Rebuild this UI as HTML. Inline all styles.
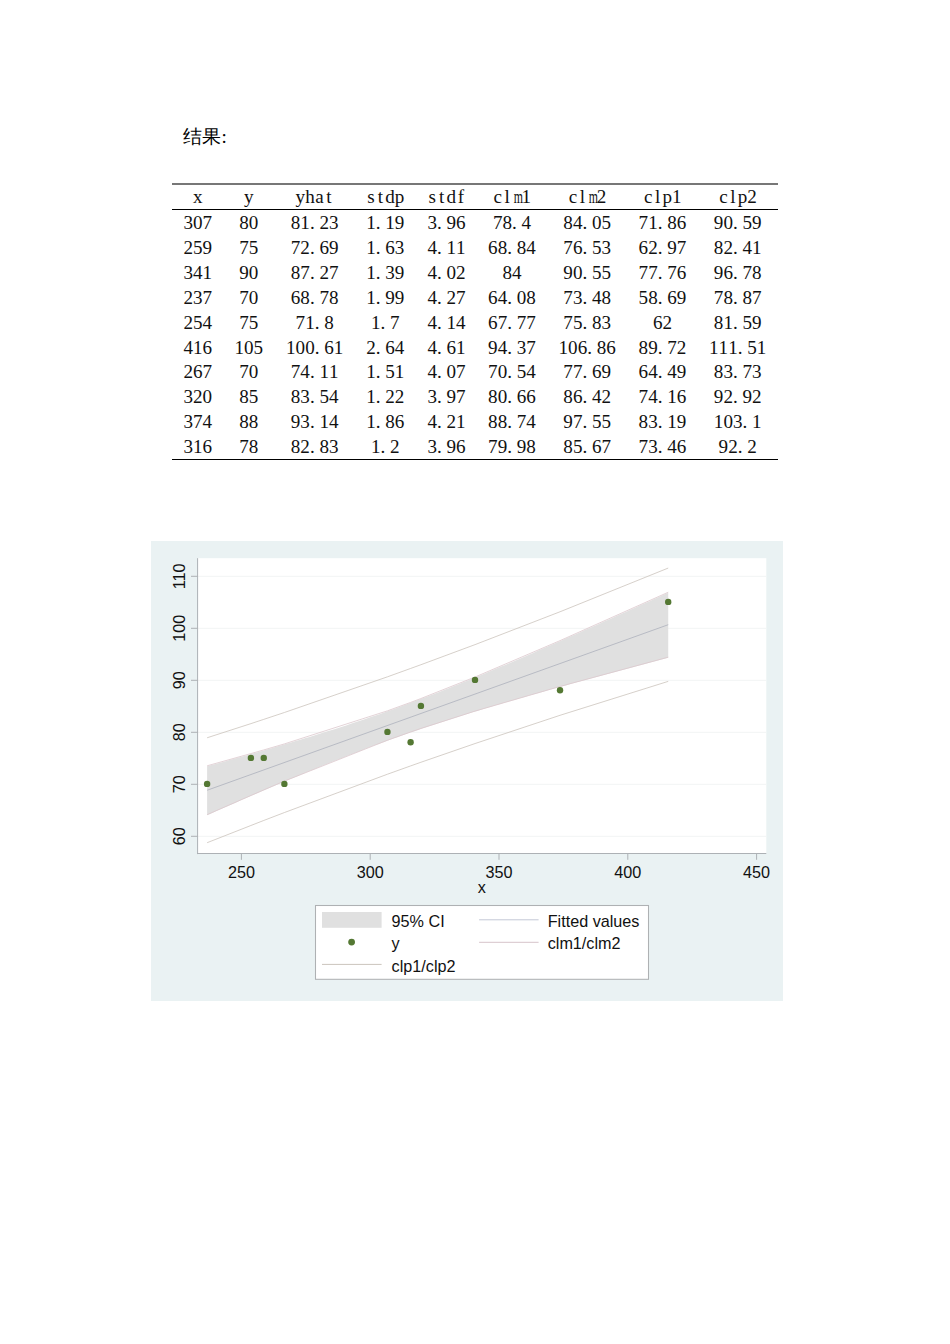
<!DOCTYPE html>
<html><head><meta charset="utf-8"><style>
html,body{margin:0;padding:0;background:#fff;}
body{width:950px;height:1344px;position:relative;overflow:hidden;}
.c{position:absolute;font-family:"Liberation Serif",serif;font-size:19.1px;line-height:20px;white-space:nowrap;color:#111;}
.c i{font-style:normal;display:inline-block;width:9.550px;text-align:center;}
.c i.p{text-align:left;}
.c i.m{transform:scaleX(0.62);}
.title{position:absolute;left:182.5px;top:125px;font-family:"Liberation Serif",serif;font-size:19.1px;line-height:24px;color:#000;}
.rule{position:absolute;left:172.2px;width:605.7px;background:#000;}
svg text{font-family:"Liberation Sans",sans-serif;}
</style></head><body>
<div class="title">结果<span style="position:absolute;left:39px;top:0">:</span></div>
<div class="rule" style="top:182.7px;height:2px;background:#777"></div>
<div class="rule" style="top:209px;height:1px;"></div>
<div class="rule" style="top:459px;height:1.3px;"></div>
<div class="c" style="left:193.03px;top:187.30px"><i>x</i></div>
<div class="c" style="left:243.92px;top:187.30px"><i>y</i></div>
<div class="c" style="left:295.60px;top:187.30px"><i>y</i><i>h</i><i>a</i><i>t</i></div>
<div class="c" style="left:366.20px;top:187.30px"><i>s</i><i>t</i><i>d</i><i>p</i></div>
<div class="c" style="left:427.40px;top:187.30px"><i>s</i><i>t</i><i>d</i><i>f</i></div>
<div class="c" style="left:492.90px;top:187.30px"><i>c</i><i>l</i><i class="m">m</i><i>1</i></div>
<div class="c" style="left:568.10px;top:187.30px"><i>c</i><i>l</i><i class="m">m</i><i>2</i></div>
<div class="c" style="left:643.40px;top:187.30px"><i>c</i><i>l</i><i>p</i><i>1</i></div>
<div class="c" style="left:718.60px;top:187.30px"><i>c</i><i>l</i><i>p</i><i>2</i></div>
<div class="c" style="left:183.48px;top:213.17px"><i>3</i><i>0</i><i>7</i></div>
<div class="c" style="left:239.15px;top:213.17px"><i>8</i><i>0</i></div>
<div class="c" style="left:290.82px;top:213.17px"><i>8</i><i>1</i><i class="p">.</i><i>2</i><i>3</i></div>
<div class="c" style="left:366.20px;top:213.17px"><i>1</i><i class="p">.</i><i>1</i><i>9</i></div>
<div class="c" style="left:427.40px;top:213.17px"><i>3</i><i class="p">.</i><i>9</i><i>6</i></div>
<div class="c" style="left:492.90px;top:213.17px"><i>7</i><i>8</i><i class="p">.</i><i>4</i></div>
<div class="c" style="left:563.33px;top:213.17px"><i>8</i><i>4</i><i class="p">.</i><i>0</i><i>5</i></div>
<div class="c" style="left:638.62px;top:213.17px"><i>7</i><i>1</i><i class="p">.</i><i>8</i><i>6</i></div>
<div class="c" style="left:713.83px;top:213.17px"><i>9</i><i>0</i><i class="p">.</i><i>5</i><i>9</i></div>
<div class="c" style="left:183.48px;top:238.04px"><i>2</i><i>5</i><i>9</i></div>
<div class="c" style="left:239.15px;top:238.04px"><i>7</i><i>5</i></div>
<div class="c" style="left:290.82px;top:238.04px"><i>7</i><i>2</i><i class="p">.</i><i>6</i><i>9</i></div>
<div class="c" style="left:366.20px;top:238.04px"><i>1</i><i class="p">.</i><i>6</i><i>3</i></div>
<div class="c" style="left:427.40px;top:238.04px"><i>4</i><i class="p">.</i><i>1</i><i>1</i></div>
<div class="c" style="left:488.12px;top:238.04px"><i>6</i><i>8</i><i class="p">.</i><i>8</i><i>4</i></div>
<div class="c" style="left:563.33px;top:238.04px"><i>7</i><i>6</i><i class="p">.</i><i>5</i><i>3</i></div>
<div class="c" style="left:638.62px;top:238.04px"><i>6</i><i>2</i><i class="p">.</i><i>9</i><i>7</i></div>
<div class="c" style="left:713.83px;top:238.04px"><i>8</i><i>2</i><i class="p">.</i><i>4</i><i>1</i></div>
<div class="c" style="left:183.48px;top:262.91px"><i>3</i><i>4</i><i>1</i></div>
<div class="c" style="left:239.15px;top:262.91px"><i>9</i><i>0</i></div>
<div class="c" style="left:290.82px;top:262.91px"><i>8</i><i>7</i><i class="p">.</i><i>2</i><i>7</i></div>
<div class="c" style="left:366.20px;top:262.91px"><i>1</i><i class="p">.</i><i>3</i><i>9</i></div>
<div class="c" style="left:427.40px;top:262.91px"><i>4</i><i class="p">.</i><i>0</i><i>2</i></div>
<div class="c" style="left:502.45px;top:262.91px"><i>8</i><i>4</i></div>
<div class="c" style="left:563.33px;top:262.91px"><i>9</i><i>0</i><i class="p">.</i><i>5</i><i>5</i></div>
<div class="c" style="left:638.62px;top:262.91px"><i>7</i><i>7</i><i class="p">.</i><i>7</i><i>6</i></div>
<div class="c" style="left:713.83px;top:262.91px"><i>9</i><i>6</i><i class="p">.</i><i>7</i><i>8</i></div>
<div class="c" style="left:183.48px;top:287.78px"><i>2</i><i>3</i><i>7</i></div>
<div class="c" style="left:239.15px;top:287.78px"><i>7</i><i>0</i></div>
<div class="c" style="left:290.82px;top:287.78px"><i>6</i><i>8</i><i class="p">.</i><i>7</i><i>8</i></div>
<div class="c" style="left:366.20px;top:287.78px"><i>1</i><i class="p">.</i><i>9</i><i>9</i></div>
<div class="c" style="left:427.40px;top:287.78px"><i>4</i><i class="p">.</i><i>2</i><i>7</i></div>
<div class="c" style="left:488.12px;top:287.78px"><i>6</i><i>4</i><i class="p">.</i><i>0</i><i>8</i></div>
<div class="c" style="left:563.33px;top:287.78px"><i>7</i><i>3</i><i class="p">.</i><i>4</i><i>8</i></div>
<div class="c" style="left:638.62px;top:287.78px"><i>5</i><i>8</i><i class="p">.</i><i>6</i><i>9</i></div>
<div class="c" style="left:713.83px;top:287.78px"><i>7</i><i>8</i><i class="p">.</i><i>8</i><i>7</i></div>
<div class="c" style="left:183.48px;top:312.65px"><i>2</i><i>5</i><i>4</i></div>
<div class="c" style="left:239.15px;top:312.65px"><i>7</i><i>5</i></div>
<div class="c" style="left:295.60px;top:312.65px"><i>7</i><i>1</i><i class="p">.</i><i>8</i></div>
<div class="c" style="left:370.98px;top:312.65px"><i>1</i><i class="p">.</i><i>7</i></div>
<div class="c" style="left:427.40px;top:312.65px"><i>4</i><i class="p">.</i><i>1</i><i>4</i></div>
<div class="c" style="left:488.12px;top:312.65px"><i>6</i><i>7</i><i class="p">.</i><i>7</i><i>7</i></div>
<div class="c" style="left:563.33px;top:312.65px"><i>7</i><i>5</i><i class="p">.</i><i>8</i><i>3</i></div>
<div class="c" style="left:652.95px;top:312.65px"><i>6</i><i>2</i></div>
<div class="c" style="left:713.83px;top:312.65px"><i>8</i><i>1</i><i class="p">.</i><i>5</i><i>9</i></div>
<div class="c" style="left:183.48px;top:337.52px"><i>4</i><i>1</i><i>6</i></div>
<div class="c" style="left:234.38px;top:337.52px"><i>1</i><i>0</i><i>5</i></div>
<div class="c" style="left:286.05px;top:337.52px"><i>1</i><i>0</i><i>0</i><i class="p">.</i><i>6</i><i>1</i></div>
<div class="c" style="left:366.20px;top:337.52px"><i>2</i><i class="p">.</i><i>6</i><i>4</i></div>
<div class="c" style="left:427.40px;top:337.52px"><i>4</i><i class="p">.</i><i>6</i><i>1</i></div>
<div class="c" style="left:488.12px;top:337.52px"><i>9</i><i>4</i><i class="p">.</i><i>3</i><i>7</i></div>
<div class="c" style="left:558.55px;top:337.52px"><i>1</i><i>0</i><i>6</i><i class="p">.</i><i>8</i><i>6</i></div>
<div class="c" style="left:638.62px;top:337.52px"><i>8</i><i>9</i><i class="p">.</i><i>7</i><i>2</i></div>
<div class="c" style="left:709.05px;top:337.52px"><i>1</i><i>1</i><i>1</i><i class="p">.</i><i>5</i><i>1</i></div>
<div class="c" style="left:183.48px;top:362.39px"><i>2</i><i>6</i><i>7</i></div>
<div class="c" style="left:239.15px;top:362.39px"><i>7</i><i>0</i></div>
<div class="c" style="left:290.82px;top:362.39px"><i>7</i><i>4</i><i class="p">.</i><i>1</i><i>1</i></div>
<div class="c" style="left:366.20px;top:362.39px"><i>1</i><i class="p">.</i><i>5</i><i>1</i></div>
<div class="c" style="left:427.40px;top:362.39px"><i>4</i><i class="p">.</i><i>0</i><i>7</i></div>
<div class="c" style="left:488.12px;top:362.39px"><i>7</i><i>0</i><i class="p">.</i><i>5</i><i>4</i></div>
<div class="c" style="left:563.33px;top:362.39px"><i>7</i><i>7</i><i class="p">.</i><i>6</i><i>9</i></div>
<div class="c" style="left:638.62px;top:362.39px"><i>6</i><i>4</i><i class="p">.</i><i>4</i><i>9</i></div>
<div class="c" style="left:713.83px;top:362.39px"><i>8</i><i>3</i><i class="p">.</i><i>7</i><i>3</i></div>
<div class="c" style="left:183.48px;top:387.26px"><i>3</i><i>2</i><i>0</i></div>
<div class="c" style="left:239.15px;top:387.26px"><i>8</i><i>5</i></div>
<div class="c" style="left:290.82px;top:387.26px"><i>8</i><i>3</i><i class="p">.</i><i>5</i><i>4</i></div>
<div class="c" style="left:366.20px;top:387.26px"><i>1</i><i class="p">.</i><i>2</i><i>2</i></div>
<div class="c" style="left:427.40px;top:387.26px"><i>3</i><i class="p">.</i><i>9</i><i>7</i></div>
<div class="c" style="left:488.12px;top:387.26px"><i>8</i><i>0</i><i class="p">.</i><i>6</i><i>6</i></div>
<div class="c" style="left:563.33px;top:387.26px"><i>8</i><i>6</i><i class="p">.</i><i>4</i><i>2</i></div>
<div class="c" style="left:638.62px;top:387.26px"><i>7</i><i>4</i><i class="p">.</i><i>1</i><i>6</i></div>
<div class="c" style="left:713.83px;top:387.26px"><i>9</i><i>2</i><i class="p">.</i><i>9</i><i>2</i></div>
<div class="c" style="left:183.48px;top:412.13px"><i>3</i><i>7</i><i>4</i></div>
<div class="c" style="left:239.15px;top:412.13px"><i>8</i><i>8</i></div>
<div class="c" style="left:290.82px;top:412.13px"><i>9</i><i>3</i><i class="p">.</i><i>1</i><i>4</i></div>
<div class="c" style="left:366.20px;top:412.13px"><i>1</i><i class="p">.</i><i>8</i><i>6</i></div>
<div class="c" style="left:427.40px;top:412.13px"><i>4</i><i class="p">.</i><i>2</i><i>1</i></div>
<div class="c" style="left:488.12px;top:412.13px"><i>8</i><i>8</i><i class="p">.</i><i>7</i><i>4</i></div>
<div class="c" style="left:563.33px;top:412.13px"><i>9</i><i>7</i><i class="p">.</i><i>5</i><i>5</i></div>
<div class="c" style="left:638.62px;top:412.13px"><i>8</i><i>3</i><i class="p">.</i><i>1</i><i>9</i></div>
<div class="c" style="left:713.83px;top:412.13px"><i>1</i><i>0</i><i>3</i><i class="p">.</i><i>1</i></div>
<div class="c" style="left:183.48px;top:437.00px"><i>3</i><i>1</i><i>6</i></div>
<div class="c" style="left:239.15px;top:437.00px"><i>7</i><i>8</i></div>
<div class="c" style="left:290.82px;top:437.00px"><i>8</i><i>2</i><i class="p">.</i><i>8</i><i>3</i></div>
<div class="c" style="left:370.98px;top:437.00px"><i>1</i><i class="p">.</i><i>2</i></div>
<div class="c" style="left:427.40px;top:437.00px"><i>3</i><i class="p">.</i><i>9</i><i>6</i></div>
<div class="c" style="left:488.12px;top:437.00px"><i>7</i><i>9</i><i class="p">.</i><i>9</i><i>8</i></div>
<div class="c" style="left:563.33px;top:437.00px"><i>8</i><i>5</i><i class="p">.</i><i>6</i><i>7</i></div>
<div class="c" style="left:638.62px;top:437.00px"><i>7</i><i>3</i><i class="p">.</i><i>4</i><i>6</i></div>
<div class="c" style="left:718.60px;top:437.00px"><i>9</i><i>2</i><i class="p">.</i><i>2</i></div>

<svg width="950" height="1344" style="position:absolute;left:0;top:0">
<rect x="151" y="541" width="632" height="460" fill="#eaf2f3"/>
<rect x="198" y="558.2" width="568.3" height="295.3" fill="#ffffff"/>
<g stroke="#f2f4f4" stroke-width="1"><line x1="198" x2="766.3" y1="836.30" y2="836.30"/><line x1="198" x2="766.3" y1="784.30" y2="784.30"/><line x1="198" x2="766.3" y1="732.30" y2="732.30"/><line x1="198" x2="766.3" y1="680.30" y2="680.30"/><line x1="198" x2="766.3" y1="628.30" y2="628.30"/><line x1="198" x2="766.3" y1="576.30" y2="576.30"/></g>
<path d="M207.11,766.32 L211.77,765.04 L216.43,763.75 L221.08,762.46 L225.74,761.17 L230.40,759.87 L235.06,758.57 L239.72,757.26 L244.37,755.95 L249.03,754.63 L253.69,753.30 L258.35,751.98 L263.00,750.64 L267.66,749.30 L272.32,747.95 L276.98,746.59 L281.63,745.23 L286.29,743.86 L290.95,742.48 L295.61,741.09 L300.26,739.70 L304.92,738.29 L309.58,736.88 L314.24,735.45 L318.89,734.01 L323.55,732.56 L328.21,731.10 L332.87,729.63 L337.53,728.15 L342.18,726.65 L346.84,725.13 L351.50,723.61 L356.16,722.07 L360.81,720.51 L365.47,718.94 L370.13,717.36 L374.79,715.76 L379.44,714.14 L384.10,712.51 L388.76,710.86 L393.42,709.19 L398.07,707.51 L402.73,705.81 L407.39,704.09 L412.05,702.36 L416.70,700.61 L421.36,698.85 L426.02,697.07 L430.68,695.28 L435.34,693.47 L439.99,691.65 L444.65,689.81 L449.31,687.97 L453.97,686.10 L458.62,684.23 L463.28,682.34 L467.94,680.44 L472.60,678.53 L477.25,676.61 L481.91,674.68 L486.57,672.74 L491.23,670.79 L495.88,668.83 L500.54,666.86 L505.20,664.89 L509.86,662.90 L514.51,660.91 L519.17,658.91 L523.83,656.91 L528.49,654.90 L533.15,652.88 L537.80,650.86 L542.46,648.83 L547.12,646.80 L551.78,644.76 L556.43,642.72 L561.09,640.67 L565.75,638.62 L570.41,636.56 L575.06,634.50 L579.72,632.44 L584.38,630.37 L589.04,628.30 L593.69,626.23 L598.35,624.15 L603.01,622.07 L607.67,619.99 L612.32,617.91 L616.98,615.82 L621.64,613.73 L626.30,611.64 L630.96,609.54 L635.61,607.45 L640.27,605.35 L644.93,603.25 L649.59,601.15 L654.24,599.04 L658.90,596.94 L663.56,594.83 L668.22,592.72 L668.22,657.69 L663.56,658.93 L658.90,660.17 L654.24,661.41 L649.59,662.65 L644.93,663.89 L640.27,665.13 L635.61,666.38 L630.96,667.63 L626.30,668.88 L621.64,670.13 L616.98,671.39 L612.32,672.65 L607.67,673.91 L603.01,675.17 L598.35,676.43 L593.69,677.70 L589.04,678.97 L584.38,680.25 L579.72,681.53 L575.06,682.81 L570.41,684.09 L565.75,685.38 L561.09,686.67 L556.43,687.97 L551.78,689.27 L547.12,690.58 L542.46,691.89 L537.80,693.21 L533.15,694.53 L528.49,695.86 L523.83,697.19 L519.17,698.53 L514.51,699.88 L509.86,701.23 L505.20,702.59 L500.54,703.96 L495.88,705.34 L491.23,706.72 L486.57,708.12 L481.91,709.52 L477.25,710.93 L472.60,712.36 L467.94,713.79 L463.28,715.24 L458.62,716.70 L453.97,718.17 L449.31,719.65 L444.65,721.14 L439.99,722.65 L435.34,724.17 L430.68,725.71 L426.02,727.26 L421.36,728.83 L416.70,730.41 L412.05,732.01 L407.39,733.62 L402.73,735.25 L398.07,736.90 L393.42,738.56 L388.76,740.24 L384.10,741.93 L379.44,743.64 L374.79,745.37 L370.13,747.11 L365.47,748.87 L360.81,750.65 L356.16,752.43 L351.50,754.24 L346.84,756.06 L342.18,757.89 L337.53,759.74 L332.87,761.60 L328.21,763.47 L323.55,765.35 L318.89,767.25 L314.24,769.16 L309.58,771.07 L304.92,773.00 L300.26,774.94 L295.61,776.89 L290.95,778.85 L286.29,780.81 L281.63,782.79 L276.98,784.77 L272.32,786.76 L267.66,788.75 L263.00,790.75 L258.35,792.76 L253.69,794.78 L249.03,796.80 L244.37,798.83 L239.72,800.86 L235.06,802.90 L230.40,804.94 L225.74,806.98 L221.08,809.04 L216.43,811.09 L211.77,813.15 L207.11,815.21 Z" fill="#e0e0e0"/>
<g fill="none" stroke-width="0.8">
<path d="M207.11,814.68 L250.90,795.50 L263.78,789.93 L284.39,781.09 L387.43,740.22 L410.62,732.00 L420.92,728.47 L475.02,711.10 L560.02,686.45 L668.22,657.18" stroke="#dcc8cd"/><path d="M207.11,765.80 L250.90,753.58 L263.78,749.94 L284.39,743.91 L387.43,710.84 L410.62,702.42 L420.92,698.52 L475.02,677.04 L560.02,640.64 L668.22,592.23" stroke="#dcc8cd"/>
<path d="M207.11,842.71 L250.90,825.50 L263.78,820.46 L284.39,812.55 L387.43,774.23 L410.62,765.91 L420.92,762.27 L475.02,743.55 L560.02,715.31 L668.22,681.36" stroke="#cbc4bc"/><path d="M207.11,737.78 L250.90,723.63 L263.78,719.37 L284.39,712.50 L387.43,676.83 L410.62,668.46 L420.92,664.72 L475.02,644.64 L560.02,611.78 L668.22,568.05" stroke="#cbc4bc"/>
<path d="M207.11,790.26 L668.22,624.71" stroke="#adb1bc"/>
</g>
<g fill="#547833"><circle cx="387.43" cy="731.90" r="3.2"/><circle cx="263.78" cy="757.90" r="3.2"/><circle cx="475.02" cy="679.90" r="3.2"/><circle cx="207.11" cy="783.90" r="3.2"/><circle cx="250.90" cy="757.90" r="3.2"/><circle cx="668.22" cy="601.90" r="3.2"/><circle cx="284.39" cy="783.90" r="3.2"/><circle cx="420.92" cy="705.90" r="3.2"/><circle cx="560.02" cy="690.30" r="3.2"/><circle cx="410.62" cy="742.30" r="3.2"/></g>
<g stroke="#adb1b5" stroke-width="1">
<line x1="197.6" x2="197.6" y1="558.2" y2="854.1"/>
<line x1="197" x2="766.3" y1="853.5" y2="853.5"/>
<line x1="191" x2="198" y1="836.30" y2="836.30"/><line x1="191" x2="198" y1="784.30" y2="784.30"/><line x1="191" x2="198" y1="732.30" y2="732.30"/><line x1="191" x2="198" y1="680.30" y2="680.30"/><line x1="191" x2="198" y1="628.30" y2="628.30"/><line x1="191" x2="198" y1="576.30" y2="576.30"/><line x1="241.40" x2="241.40" y1="853.5" y2="859.8"/><line x1="370.20" x2="370.20" y1="853.5" y2="859.8"/><line x1="499.00" x2="499.00" y1="853.5" y2="859.8"/><line x1="627.80" x2="627.80" y1="853.5" y2="859.8"/><line x1="756.60" x2="756.60" y1="853.5" y2="859.8"/>
</g>
<g font-family="Liberation Sans, sans-serif" font-size="16.2" fill="#111"><text transform="translate(185.3,836.30) rotate(-90)" text-anchor="middle">60</text><text transform="translate(185.3,784.30) rotate(-90)" text-anchor="middle">70</text><text transform="translate(185.3,732.30) rotate(-90)" text-anchor="middle">80</text><text transform="translate(185.3,680.30) rotate(-90)" text-anchor="middle">90</text><text transform="translate(185.3,628.30) rotate(-90)" text-anchor="middle">100</text><text transform="translate(185.3,576.30) rotate(-90)" text-anchor="middle">110</text><text x="241.40" y="877.8" text-anchor="middle">250</text><text x="370.20" y="877.8" text-anchor="middle">300</text><text x="499.00" y="877.8" text-anchor="middle">350</text><text x="627.80" y="877.8" text-anchor="middle">400</text><text x="756.60" y="877.8" text-anchor="middle">450</text></g>
<text x="481.7" y="893.4" text-anchor="middle" font-family="Liberation Sans, sans-serif" font-size="16.2" fill="#111">x</text>
<rect x="315.5" y="905.5" width="333" height="73.8" fill="#ffffff" stroke="#aeb1b3" stroke-width="1.05"/>
<rect x="322" y="912" width="59.6" height="15.8" fill="#e0e0e0"/>
<circle cx="351.6" cy="942.1" r="3.4" fill="#547833"/>
<line x1="322" x2="381.6" y1="964.4" y2="964.4" stroke="#cbc4bc" stroke-width="1"/>
<line x1="479.1" x2="538.6" y1="919.8" y2="919.8" stroke="#c4c8d6" stroke-width="1"/>
<line x1="479.1" x2="538.6" y1="942.3" y2="942.3" stroke="#d6c4ca" stroke-width="1"/>
<g font-family="Liberation Sans, sans-serif" font-size="16.2" fill="#111">
<text x="391.6" y="926.8">95% CI</text>
<text x="547.7" y="926.8">Fitted values</text>
<text x="391.6" y="949.3">y</text>
<text x="547.7" y="949.3">clm1/clm2</text>
<text x="391.6" y="971.6">clp1/clp2</text>
</g>
</svg>
</body></html>
